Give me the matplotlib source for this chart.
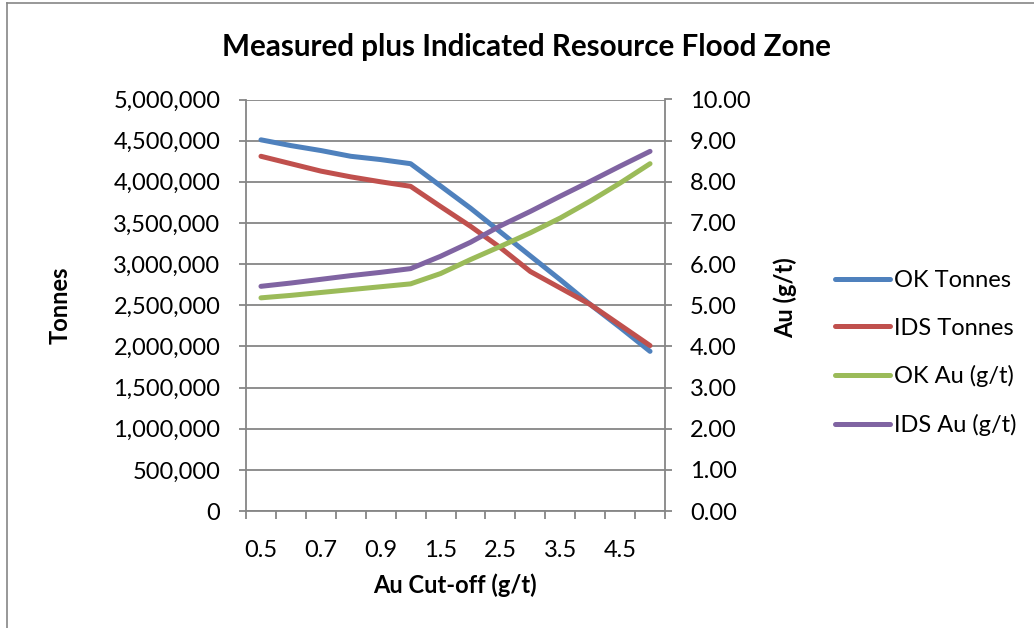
import matplotlib
matplotlib.use("Agg")
import matplotlib.pyplot as plt
from matplotlib.lines import Line2D
from matplotlib.ticker import FuncFormatter, FixedLocator, NullFormatter

plt.rcParams['font.family'] = ['Lato', 'DejaVu Sans']

cutoffs = ["0.5", "0.6", "0.7", "0.8", "0.9", "1.0", "1.5", "2.0", "2.5", "3.0", "3.5", "4.0", "4.5", "5.0"]
ok_tonnes = [4510000, 4440000, 4380000, 4310000, 4270000, 4220000, 3950000, 3680000,
             3390000, 3100000, 2810000, 2510000, 2230000, 1940000]
ids_tonnes = [4310000, 4220000, 4130000, 4060000, 4000000, 3945000, 3700000, 3460000,
              3200000, 2910000, 2710000, 2510000, 2260000, 2010000]
ok_au = [5.18, 5.24, 5.31, 5.38, 5.45, 5.52, 5.77, 6.11, 6.43, 6.76, 7.12, 7.53, 7.97, 8.44]
ids_au = [5.46, 5.54, 5.63, 5.72, 5.80, 5.89, 6.19, 6.53, 6.93, 7.28, 7.65, 8.01, 8.38, 8.74]

title = "Measured plus Indicated Resource Flood Zone"
xlabel = "Au Cut-off (g/t)"
ylabel_left = "Tonnes"
ylabel_right = "Au (g/t)"
names = ["OK Tonnes", "IDS Tonnes", "OK Au (g/t)", "IDS Au (g/t)"]
colors = ["#4F81BD", "#C0504D", "#9BBB59", "#8064A2"]

W, H = 1034, 628
fig = plt.figure(figsize=(W / 100, H / 100), dpi=100)
L, R, T, B = 246, 665, 99.5, 511
ax = fig.add_axes([L / W, 1 - B / H, (R - L) / W, (B - T) / H])
ax2 = ax.twinx()

grey = "#868686"
fs = 17
x = list(range(len(cutoffs)))
lw = 3.6
kw = dict(lw=lw, solid_capstyle='round', solid_joinstyle='round', zorder=3)
ax.plot(x, ok_tonnes, color=colors[0], **kw)
ax.plot(x, ids_tonnes, color=colors[1], **kw)
ax2.plot(x, ok_au, color=colors[2], **kw)
ax2.plot(x, ids_au, color=colors[3], **kw)

ax.set_xlim(-0.5, len(cutoffs) - 0.5)
ax.set_ylim(0, 5000000)
ax2.set_ylim(0, 10)
ax.set_yticks([i * 500000 for i in range(11)])
ax2.set_yticks(list(range(11)))
ax.yaxis.set_major_formatter(FuncFormatter(lambda v, p: f"{int(v):,}"))
ax2.yaxis.set_major_formatter(FuncFormatter(lambda v, p: f"{v:.2f}"))

# x ticks: marks at category boundaries, labels every other category
ax.xaxis.set_major_locator(FixedLocator([i for i in range(0, len(cutoffs), 2)]))
ax.set_xticklabels([cutoffs[i] for i in range(0, len(cutoffs), 2)])
ax.xaxis.set_minor_locator(FixedLocator([i - 0.5 for i in range(len(cutoffs) + 1)]))
ax.xaxis.set_minor_formatter(NullFormatter())
ax.tick_params(axis='x', which='major', length=0, pad=21, labelsize=fs, colors='black')
ax.tick_params(axis='x', which='minor', length=5.5, width=1.3, color=grey, direction='out')
ax.tick_params(axis='y', length=5, width=1.3, color=grey, pad=13.5, labelsize=fs, labelcolor='black')
ax2.tick_params(axis='y', length=5, width=1.3, color=grey, pad=13, labelsize=fs, labelcolor='black')

ax.grid(axis='y', color=grey, lw=1.3, zorder=0)
ax.set_axisbelow(True)
for a in (ax, ax2):
    for s in a.spines.values():
        s.set_visible(False)
        s.set_color(grey)
        s.set_linewidth(1.3)
ax.spines['left'].set_visible(True)
ax.spines['bottom'].set_visible(True)
ax2.spines['right'].set_visible(True)

fig.text(526 / W, 1 - 47 / H, title, ha='center', va='center', fontsize=21.3, fontweight='bold')
fig.text(455 / W, 1 - 585 / H, xlabel, ha='center', va='center', fontsize=fs, fontweight='bold')
fig.text(60 / W, 1 - 305 / H, ylabel_left, ha='center', va='center', rotation=90, fontsize=fs, fontweight='bold')
fig.text(785 / W, 1 - 298 / H, ylabel_right, ha='center', va='center', rotation=90, fontsize=fs, fontweight='bold')

handles = [Line2D([], [], color=c, lw=lw, solid_capstyle='round') for c in colors]
fig.legend(handles, names, loc='upper left', bbox_to_anchor=(835 / W, 1 - 270 / H),
           frameon=False, fontsize=fs, handlelength=2.33, handletextpad=0.15, labelspacing=1.13,
           borderpad=0, borderaxespad=0)

# chart border
fig.add_artist(Line2D([7 / W, 7 / W], [0, 1 - 3 / H], transform=fig.transFigure, color=grey, lw=1.2))
fig.add_artist(Line2D([7 / W, 1], [1 - 3 / H, 1 - 3 / H], transform=fig.transFigure, color=grey, lw=1.2))

fig.savefig("out.png", dpi=100)
